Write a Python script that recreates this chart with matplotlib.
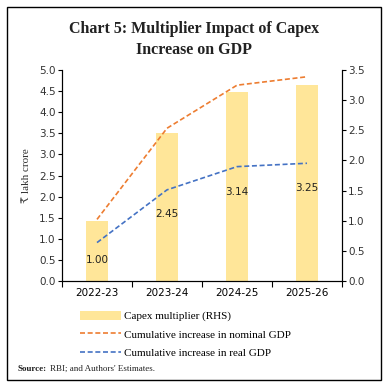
import matplotlib
matplotlib.use("Agg")
import matplotlib.pyplot as plt
from matplotlib.patches import Rectangle, Patch
from matplotlib.lines import Line2D
import numpy as np

categories = ["2022-23", "2023-24", "2024-25", "2025-26"]
capex_multiplier = [1.00, 2.45, 3.14, 3.25]
nominal_gdp = [1.46, 3.62, 4.64, 4.84]
real_gdp = [0.91, 2.16, 2.71, 2.79]
left_ticks = [0.0, 0.5, 1.0, 1.5, 2.0, 2.5, 3.0, 3.5, 4.0, 4.5, 5.0]
right_ticks = [0.0, 0.5, 1.0, 1.5, 2.0, 2.5, 3.0, 3.5]

serif = ["Liberation Serif", "DejaVu Serif"]
sans = ["DejaVu Sans"]

fig = plt.figure(figsize=(3.89, 3.88), dpi=100)
fig.patch.set_facecolor("white")

# frame
fig.add_artist(Rectangle((7/389, 1-380/388), (381-7)/389, (380-7)/388,
                         transform=fig.transFigure, fill=False,
                         edgecolor="black", linewidth=1.0))

fig.text(0.5, 1-39.5/388, "Chart 5: Multiplier Impact of Capex\nIncrease on GDP",
         ha="center", va="center", fontsize=11.5, fontweight="bold",
         family=serif, linespacing=1.4, color="#222222")

ax = fig.add_axes([62/389, 1-281/388, (342-62)/389, (281-70)/388])
ax2 = ax.twinx()
ax.set_zorder(ax2.get_zorder() + 1)
ax.patch.set_visible(False)

x = np.arange(len(categories))
bars = ax2.bar(x, capex_multiplier, width=0.32, color="#FFE699", zorder=1)
for xi, v in zip(x, capex_multiplier):
    ax2.text(xi, 0.53 * v - 0.18, f"{v:.2f}", ha="center", va="center",
             fontsize=7.5, family=sans, color="#222222")

ax.plot(x, nominal_gdp, color="#ED7D31", linestyle=(0, (3, 1.6)), linewidth=1.2)
ax.plot(x, real_gdp, color="#4472C4", linestyle=(0, (3, 1.6)), linewidth=1.2)

ax.set_xlim(-0.5, 3.5)
ax.set_ylim(0, 5.0)
ax2.set_ylim(0, 3.5)
ax.set_yticks(left_ticks)
ax.set_yticklabels([f"{t:.1f}" for t in left_ticks])
ax2.set_yticks(right_ticks)
ax2.set_yticklabels([f"{t:.1f}" for t in right_ticks])

ax.set_xticks(x)
ax.set_xticklabels(categories)
ax.set_xticks(np.arange(-0.5, 3.6, 1.0), minor=True)
ax.tick_params(axis="x", which="major", length=0, pad=5, labelsize=7.5)
ax.tick_params(axis="x", which="minor", length=4, direction="out", width=0.8)
ax.tick_params(axis="y", length=3, width=0.8, labelsize=7.5, pad=1.5, labelcolor="#333333")
ax2.tick_params(axis="y", length=3, width=0.8, labelsize=7.5, pad=1.5, labelcolor="#333333")
for a in (ax, ax2):
    a.spines["top"].set_visible(False)
    for s in ("left", "right", "bottom"):
        a.spines[s].set_linewidth(0.8)
    for lab in a.get_xticklabels() + a.get_yticklabels():
        lab.set_family(sans)

ax.set_ylabel("₹ lakh crore", family=serif, fontsize=8, labelpad=6, color="#333333")

handles = [Patch(facecolor="#FFE699", edgecolor="none"),
           Line2D([0], [0], color="#ED7D31", linestyle=(0, (3, 1.6)), linewidth=1.2),
           Line2D([0], [0], color="#4472C4", linestyle=(0, (3, 1.6)), linewidth=1.2)]
labels = ["Capex multiplier (RHS)", "Cumulative increase in nominal GDP",
          "Cumulative increase in real GDP"]
fig.legend(handles, labels, loc="upper left", bbox_to_anchor=(74/389, 1-305/388),
           frameon=False, prop={"family": serif, "size": 8}, handlelength=3.7,
           handleheight=0.9, labelspacing=0.72, handletextpad=0.3, borderpad=0)

t1 = fig.text(18/389, 1-369/388, "Source:", fontsize=6.5, fontweight="bold",
              family=serif, va="center", ha="left", color="#222222")
fig.canvas.draw()
bb = t1.get_window_extent(renderer=fig.canvas.get_renderer())
x2 = (bb.x1 + 3) / fig.bbox.width
fig.text(x2, 1-369/388, "RBI; and Authors' Estimates.", fontsize=6.5,
         family=serif, va="center", ha="left", color="#222222")

fig.savefig("out.png", dpi=100, facecolor="white")
